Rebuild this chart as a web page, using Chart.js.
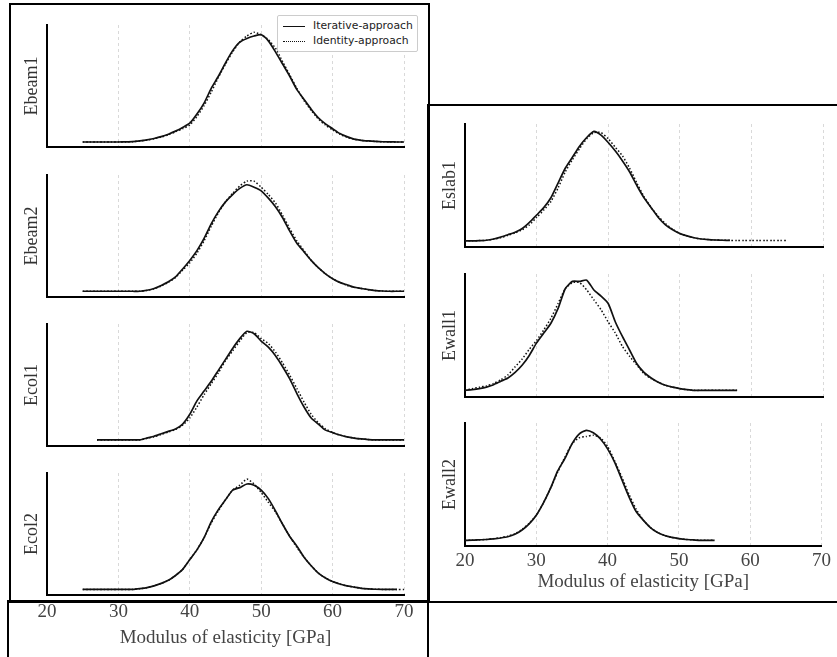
<!DOCTYPE html>
<html lang="en">
<head>
    <meta charset="UTF-8">
    <title>Modulus of elasticity</title>
    <script src="https://cdn.jsdelivr.net/npm/chart.js"></script>
    <style>
        body { margin: 0; background: #fff; }
        #page { position: relative; width: 837px; height: 657px; overflow: hidden; background: #fff; }
        .box { position: absolute; border: 2px solid #000; box-sizing: border-box; }
        .plot { position: absolute; }
        #legend {
            position: absolute; left: 277px; top: 15px; width: 141px; height: 37px;
            border: 1px solid #ccc; border-radius: 2px; background: #fff; box-sizing: border-box;
            font-family: "DejaVu Sans", sans-serif; font-size: 10.8px; color: #222; z-index: 5;
        }
        #legend .row { position: absolute; left: 5px; height: 14px; line-height: 14px; }
        #legend .swatch { display: inline-block; width: 22px; vertical-align: middle; margin-right: 8px; }
    </style>
</head>
<body>
<div id="page">
    <div class="box" style="left:9px; top:3px; width:421px; height:600px;"></div>
    <div class="box" style="left:7px; top:600px; width:422px; height:80px;"></div>
    <div class="box" style="left:427px; top:104px; width:420px; height:499px;"></div>

    <div class="plot" style="left:11px; top:19px; width:405px; height:130px;"><canvas id="ebeam1"></canvas></div>
    <div class="plot" style="left:11px; top:169px; width:405px; height:130px;"><canvas id="ebeam2"></canvas></div>
    <div class="plot" style="left:11px; top:318px; width:405px; height:130px;"><canvas id="ecol1"></canvas></div>
    <div class="plot" style="left:11px; top:467px; width:405px; height:130px;"><canvas id="ecol2"></canvas></div>
    <div class="plot" style="left:11px; top:598px; width:405px; height:59px;"><canvas id="axisLeft"></canvas></div>

    <div class="plot" style="left:429px; top:118px; width:406px; height:131px;"><canvas id="eslab1"></canvas></div>
    <div class="plot" style="left:429px; top:268px; width:406px; height:131px;"><canvas id="ewall1"></canvas></div>
    <div class="plot" style="left:429px; top:417px; width:406px; height:177px;"><canvas id="ewall2"></canvas></div>

    <div id="legend">
        <div class="row" style="top:3px;"><span class="swatch" style="border-top:1.5px solid #111;"></span>Iterative-approach</div>
        <div class="row" style="top:18px;"><span class="swatch" style="border-top:1.5px dotted #111;"></span>Identity-approach</div>
    </div>
</div>

<script>
    // x axis (GPa)
    const xTicks = [20, 30, 40, 50, 60, 70];
    const xTitle = 'Modulus of elasticity [GPa]';

    // sample positions (GPa)
    const xEbeam = [25,26,27,28,29,30,31,32,33,34,35,36,37,38,39,40,41,42,43,44,45,46,47,48,49,50,51,52,53,54,55,56,57,58,59,60,61,62,63,64,65,66,67,68,69,70];
    const xEcol1 = [27,28,29,30,31,32,33,34,35,36,37,38,39,40,41,42,43,44,45,46,47,48,49,50,51,52,53,54,55,56,57,58,59,60,61,62,63,64,65,66,67,68,69,70];
    const xEslab = [20,21,22,23,24,25,26,27,28,29,30,31,32,33,34,35,36,37,38,39,40,41,42,43,44,45,46,47,48,49,50,51,52,53,54,55,56,57,58,59,60,61,62,63,64,65];
    const xEwall1 = [20,21,22,23,24,25,26,27,28,29,30,31,32,33,34,35,36,37,38,39,40,41,42,43,44,45,46,47,48,49,50,51,52,53,54,55,56,57,58];
    const xEwall2 = [20,21,22,23,24,25,26,27,28,29,30,31,32,33,34,35,36,37,38,39,40,41,42,43,44,45,46,47,48,49,50,51,52,53,54,55];

    // relative density (0 = axis, 100 = top of axis)
    const ebeam1Iter  = [4.1,4.1,4.1,4.1,4.1,4.1,4.2,4.4,5,5.8,7,8.5,10.5,13,16,19.5,27,36,48,58,69,79,86,89,91,92,87,78,68,58,47,39,31,24,19,15,11,8.5,6.5,5.5,5,4.6,4.3,4.2,4.1,4.1];
    const ebeam1Ident = [4.1,4.1,4.1,4.1,4.1,4.1,4.2,4.4,5,5.6,6.8,8.2,10,12.5,15,18,25,34,45,57,68,78,86,91,94,92,88,81,70,59,48,38,30,23,18,14,10.5,8,6.3,5.4,4.9,4.5,4.3,4.2,4.1,4.1];

    const ebeam2Iter  = [4.7,4.7,4.7,4.7,4.7,4.7,4.7,4.7,4.7,5.5,7,9.5,12.5,16.5,23,30,38,48,60,70,78,84,89,92,90,87,81,74,65,54,44,37,30,24,19,15,12,10,8,7,6,5.3,4.9,4.7,4.7,4.7];
    const ebeam2Ident = [4.7,4.7,4.7,4.7,4.7,4.7,4.7,4.7,4.7,5.4,6.8,9,12,16,22,28,36,46,58,69,78,85,91,95,95,90,84,77,67,56,46,38,30,24,19,15,12,9.5,8,7,6,5.3,4.9,4.7,4.7,4.7];

    const ecol1Iter  = [5,5,5,5,5,5,5,6.5,8,10,12,14,18,26,37,45,53,62,71,80,88,94,92,86,81,74,65,55,43,32,23,18,13,11,9,7.5,6.5,5.8,5.3,5,5,5,5,5];
    const ecol1Ident = [5,5,5,5,5,5,5,6.3,7.6,9.5,11.5,13.5,17,23,32,42,51,60,70,78,86,93,93,88,84,77,68,58,47,36,26,19,14,11,9,7.5,6.5,5.8,5.3,5,5,5,5,5];

    const ecol2Iter  = [4.6,4.6,4.6,4.6,4.6,4.6,4.6,4.6,5.2,6,7.5,9.5,12,16,21,29,37,47,60,70,78,86,88,91,90,86,79,69,58,48,40,31,24,18,14,11,9,7.5,6.5,5.5,5,4.7,4.6,4.6,4.6,null];
    const ecol2Ident = [4.6,4.6,4.6,4.6,4.6,4.6,4.6,4.6,5.2,6,7.5,9.5,12,16,21,29,37,47,59,69,78,86,90,95,91,84,76,68,58,48,39,31,24,18,14,11,9,7.5,6.5,5.5,5,4.7,4.6,4.6,4.6,4.6];

    const eslab1Iter  = [5,5,5.2,5.5,6.5,8,10,12,15,20,26,32,40,52,64,73,82,89,94,91,85,78,70,61,50,40,32,24,18,14,11,9,7.5,6.5,6,5.7,5.5,5.4,null,null,null,null,null,null,null,null];
    const eslab1Ident = [5,5,5.2,5.5,6.3,7.6,9.5,11.5,14,18,24,30,37,48,61,71,80,88,93,93,88,81,74,64,52,41,32,25,19,14.5,11,9,7.5,6.5,6,5.7,5.5,5.4,5.3,5.3,5.3,5.3,5.3,5.3,5.3,5.3];

    const ewall1Iter  = [5.4,6,6.8,8,10,12.8,15.5,20,26,34,44,52,60,72,88,94,94,95,87,82,76,61,49,38,27,20,15.5,12,9.5,8,6.8,6,5.4,5.4,5.4,5.4,5.4,5.4,5.4];
    const ewall1Ident = [5.4,6.8,8,9,11,14,18,24.5,31,39,46,54.5,64,76,88,93,93,87,79,71,61,52,41,33,26,19,15,12,9.5,8,6.8,6,5.4,5.4,5.4,5.4,5.4,5.4,5.4];

    const ewall2Iter  = [4.6,4.7,5,5.3,5.8,6.5,7.5,9.5,13,18,25,35,47,61,71,83,91,94,92,87,79,68,54,40,28,21,15,11,8.5,7,6,5.3,5,4.6,4.6,4.6];
    const ewall2Ident = [4.6,4.7,5,5.3,6,6.8,8,10,13.5,18.5,25,35,47,60,72,83,88,89,90,88,81,69,56,42,30,21,15,11,8.5,7,6,5.3,5,4.6,4.6,4.6];

    const serif = '"Liberation Serif", "DejaVu Serif", serif';
    Chart.defaults.font.family = serif;
    Chart.defaults.animation = false;

    function toPoints(xs, ys) {
        return xs.map((x, i) => ({ x: x, y: ys[i] }));
    }

    function xScale(showLabels) {
        return {
            type: 'linear',
            min: 20,
            max: 70,
            afterBuildTicks: s => { s.ticks = xTicks.map(v => ({ value: v })); },
            grid: { display: !showLabels, color: '#d9d9d9', lineWidth: 1, drawTicks: false },
            border: { display: !showLabels, color: '#000', width: 2, dash: [3, 3] },
            ticks: { display: showLabels, color: '#444', padding: 4, font: { size: 19 } },
            title: { display: showLabels, text: xTitle, color: '#444', font: { size: 19 }, padding: { top: 0, bottom: 0.5 } },
            afterFit: s => { s.height = showLabels ? 48 : 2; }
        };
    }

    function drawPanel(id, label, xs, iter, ident, withAxis) {
        const x = xScale(false);
        if (withAxis) {
            x.ticks.display = true;
            x.title.display = true;
            x.afterFit = s => { s.height = 48; };
        }
        new Chart(document.getElementById(id), {
            type: 'line',
            data: {
                datasets: [
                    { label: 'Iterative-approach', data: toPoints(xs, iter), borderColor: '#111', borderWidth: 1.7, pointRadius: 0, tension: 0.2, spanGaps: false },
                    { label: 'Identity-approach', data: toPoints(xs, ident), borderColor: '#111', borderWidth: 1.5, borderDash: [1.5, 2], pointRadius: 0, tension: 0.2 }
                ]
            },
            options: {
                responsive: true,
                maintainAspectRatio: false,
                layout: { padding: { top: 6, right: 12, bottom: 0, left: 0 } },
                plugins: { legend: { display: false }, tooltip: { enabled: false } },
                scales: {
                    x: x,
                    y: {
                        min: 0,
                        max: 100,
                        grid: { display: false },
                        border: { display: true, color: '#000', width: 2 },
                        ticks: { display: false },
                        title: { display: true, text: label, color: '#333', font: { size: 18 }, padding: { top: 10, bottom: 0 } },
                        afterFit: s => { s.width = 36; }
                    }
                }
            }
        });
    }

    drawPanel('ebeam1', 'Ebeam1', xEbeam, ebeam1Iter, ebeam1Ident, false);
    drawPanel('ebeam2', 'Ebeam2', xEbeam, ebeam2Iter, ebeam2Ident, false);
    drawPanel('ecol1', 'Ecol1', xEcol1, ecol1Iter, ecol1Ident, false);
    drawPanel('ecol2', 'Ecol2', xEbeam, ecol2Iter, ecol2Ident, false);
    drawPanel('eslab1', 'Eslab1', xEslab, eslab1Iter, eslab1Ident, false);
    drawPanel('ewall1', 'Ewall1', xEwall1, ewall1Iter, ewall1Ident, false);
    drawPanel('ewall2', 'Ewall2', xEwall2, ewall2Iter, ewall2Ident, true);

    // tick labels of the left column sit in their own box below
    const axisX = xScale(true);
    axisX.title.padding = { top: 0, bottom: 7.5 };
    axisX.ticks.padding = 0;
    axisX.afterFit = s => { s.height = 56; };
    new Chart(document.getElementById('axisLeft'), {
        type: 'line',
        data: { datasets: [] },
        options: {
            responsive: true,
            maintainAspectRatio: false,
            layout: { padding: { top: 0, right: 12, bottom: 0, left: 36 } },
            plugins: { legend: { display: false }, tooltip: { enabled: false } },
            scales: {
                x: axisX,
                y: { display: false }
            }
        }
    });
</script>
</body>
</html>
